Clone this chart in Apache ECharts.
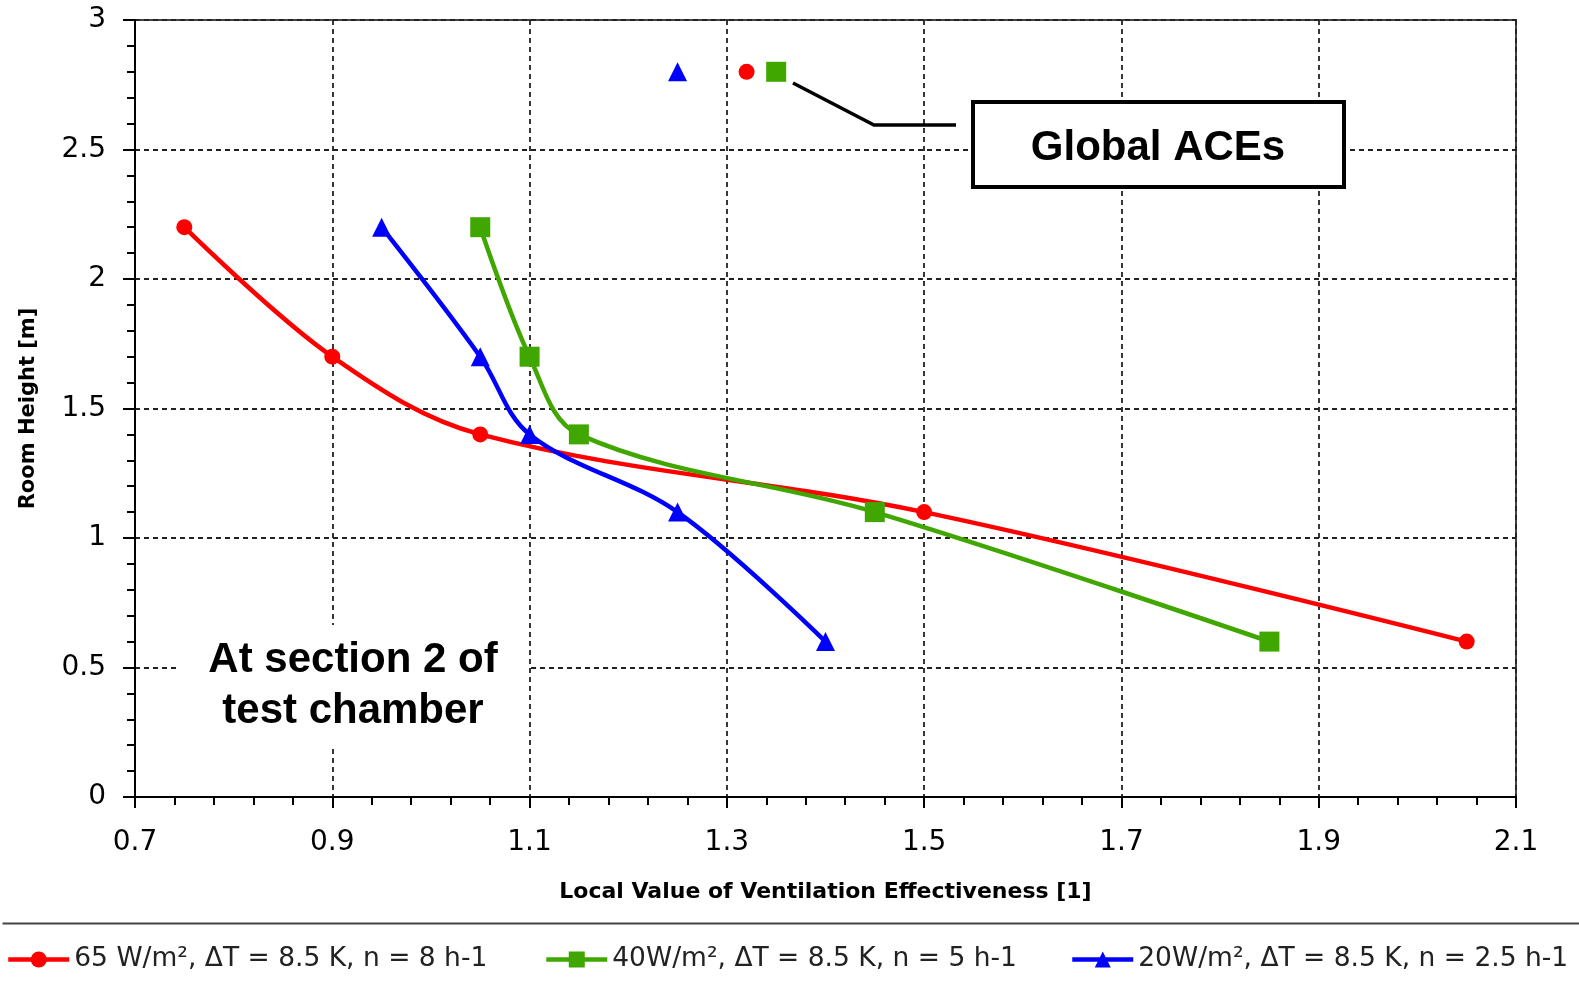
<!DOCTYPE html>
<html>
<head>
<meta charset="utf-8">
<script src="https://cdn.jsdelivr.net/npm/echarts@6/dist/echarts.min.js"></script>
<style>
html,body{margin:0;padding:0;background:#fff;}
#chart{width:1579px;height:985px;}
</style>
</head>
<body>
<div id="chart"></div>
<script>
// ---- data ----
const seriesNames = [
  '65 W/m², ΔT = 8.5 K, n = 8 h-1',
  '40W/m², ΔT = 8.5 K, n = 5 h-1',
  '20W/m², ΔT = 8.5 K, n = 2.5 h-1'
];
const heights = [2.2, 1.7, 1.4, 1.1, 0.6];
const ve65 = [0.75, 0.9, 1.05, 1.5, 2.05];
const ve40 = [1.05, 1.1, 1.15, 1.45, 1.85];
const ve20 = [0.95, 1.05, 1.1, 1.25, 1.4];
const globalHeight = 2.8;
const globalAce65 = 1.32;
const globalAce40 = 1.35;
const globalAce20 = 1.25;
const xTitle = 'Local Value of Ventilation Effectiveness [1]';
const yTitle = 'Room Height [m]';
const noteSection = 'At section 2 of\ntest chamber';
const noteGlobal = 'Global ACEs';

const colors = ['#ff0000', '#3fa700', '#0000ff'];
const symbols = ['circle', 'rect', 'triangle'];
const symSizes = [16, 20, 19];
const curves = [ve65, ve40, ve20];
const globals = [globalAce65, globalAce40, globalAce20];

const FONT = '"DejaVu Sans", sans-serif';

const series = [];
curves.forEach((xs, i) => {
  series.push({
    name: seriesNames[i],
    type: 'line',
    data: xs.map((x, k) => [x, heights[k]]),
    smooth: 0.35,
    symbol: symbols[i],
    symbolSize: symSizes[i],
    showAllSymbol: true,
    color: colors[i],
    lineStyle: { color: colors[i], width: 4.5, opacity: 1 },
    itemStyle: { color: colors[i], opacity: 1 },
    z: 3 + i
  });
});
globals.forEach((g, i) => {
  series.push({
    name: 'global' + i,
    type: 'scatter',
    data: [[g, globalHeight]],
    symbol: symbols[i],
    symbolSize: symSizes[i],
    itemStyle: { color: colors[i], opacity: 1 },
    z: 6
  });
});

const legendText = { fontFamily: FONT, fontSize: 26.5, color: '#222' };
const legendLefts = [1, 539, 1065];
const legends = seriesNames.map((n, i) => ({
  data: [n],
  left: legendLefts[i],
  top: 941,
  itemWidth: 61,
  itemHeight: 20,
  itemGap: 4,
  textStyle: legendText,
  lineStyle: { width: 4.5, color: colors[i] },
  selectedMode: false
}));

const chart = echarts.init(document.getElementById('chart'), null, { renderer: 'canvas' });
chart.setOption({
  backgroundColor: '#ffffff',
  animation: false,
  grid: {
    left: 135, right: 63, top: 20, bottom: 188,
    show: true, borderColor: '#444', borderWidth: 2, backgroundColor: 'transparent'
  },
  legend: legends,
  xAxis: {
    type: 'value', min: 0.7, max: 2.1, interval: 0.2,
    name: xTitle, nameLocation: 'middle', nameGap: 84,
    nameTextStyle: { fontFamily: FONT, fontWeight: 'bold', fontSize: 22, color: '#000' },
    axisLine: { show: true, onZero: false, lineStyle: { color: '#000', width: 2 } },
    axisTick: { show: true, length: 11, lineStyle: { color: '#000', width: 2 } },
    minorTick: { show: true, splitNumber: 5, length: 8, lineStyle: { color: '#000', width: 2 } },
    axisLabel: { fontFamily: FONT, fontSize: 28, color: '#000', margin: 32 },
    splitLine: { show: true, lineStyle: { color: '#222', width: 1.8, type: [5, 4] } }
  },
  yAxis: {
    type: 'value', min: 0, max: 3, interval: 0.5,
    name: yTitle, nameLocation: 'middle', nameGap: 96, nameRotate: 90,
    nameTextStyle: { fontFamily: FONT, fontWeight: 'bold', fontSize: 21, color: '#000' },
    axisLine: { show: true, onZero: false, lineStyle: { color: '#000', width: 2 } },
    axisTick: { show: true, length: 12, lineStyle: { color: '#000', width: 2 } },
    minorTick: { show: true, splitNumber: 5, length: 8, lineStyle: { color: '#000', width: 2 } },
    axisLabel: { fontFamily: FONT, fontSize: 28, color: '#000', margin: 29 },
    splitLine: { show: true, lineStyle: { color: '#222', width: 1.8, type: [5, 4] } }
  },
  graphic: [
    { type: 'line', left: 0, top: 921, z: 10,
      shape: { x1: 0, y1: 0, x2: 1579, y2: 0 },
      style: { stroke: '#444', lineWidth: 2 } },
    { type: 'rect', z: 20, shape: { x: 180, y: 625, width: 348, height: 120 },
      style: { fill: '#ffffff' } },
    { type: 'text', z: 21, x: 353, y: 686,
      style: { text: noteSection, fontFamily: 'Liberation Sans, Arial, sans-serif', fontWeight: 'bold',
               fontSize: 42, lineHeight: 51, fill: '#000', align: 'center', verticalAlign: 'middle' } },
    { type: 'polyline', z: 20,
      shape: { points: [[793, 83], [874, 125], [956, 125]] },
      style: { stroke: '#000', lineWidth: 3.5, fill: null } },
    { type: 'rect', z: 20, shape: { x: 973, y: 102, width: 371, height: 85 },
      style: { fill: '#ffffff', stroke: '#000', lineWidth: 4 } },
    { type: 'text', z: 21, x: 1158, y: 148,
      style: { text: noteGlobal, fontFamily: 'Liberation Sans, Arial, sans-serif', fontWeight: 'bold',
               fontSize: 42, fill: '#000', align: 'center', verticalAlign: 'middle' } }
  ],
  series: series
});
</script>
</body>
</html>
